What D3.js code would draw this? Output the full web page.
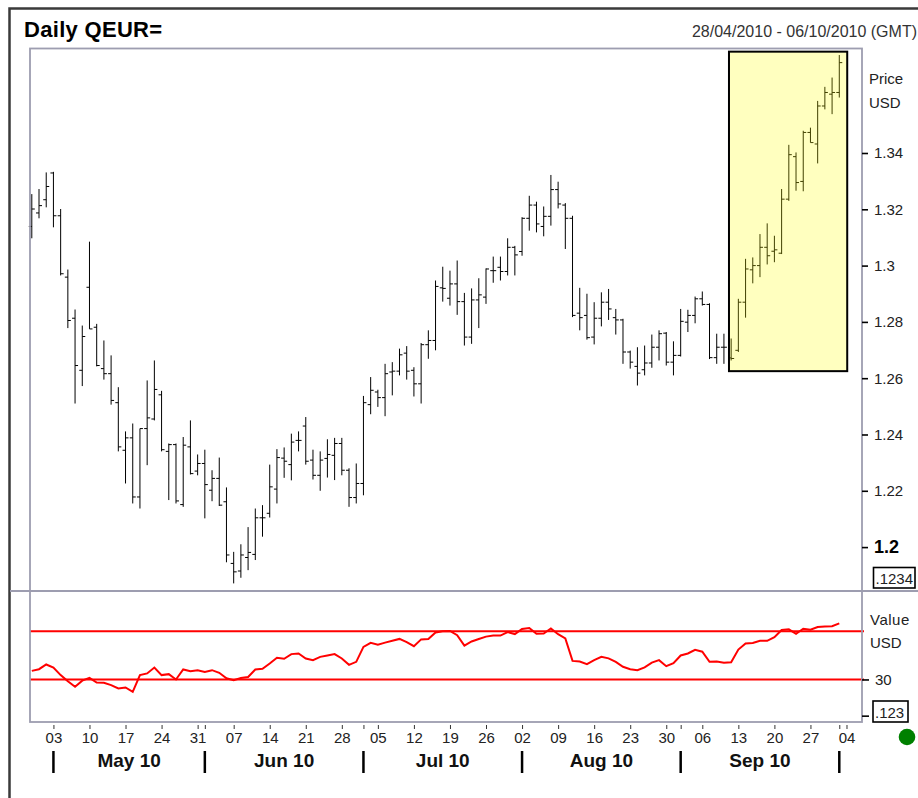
<!DOCTYPE html>
<html>
<head>
<meta charset="utf-8">
<script src="https://cdn.jsdelivr.net/npm/d3@7"></script>
<style>
body { margin: 0; background: #fff; }
svg { display: block; font-family: Arial, "Liberation Sans", sans-serif; }
</style>
</head>
<body>
<script>
// daily bars QEUR=, 28/04/2010 - 06/10/2010
var width = 918, height = 798;

var open = [1.3139,1.3187,1.3234,1.3329,1.3177,1.2959,1.2813,1.2628,1.2923,1.2781,
1.2634,1.2616,1.2513,1.2344,1.2388,1.2178,1.2421,1.2455,1.2541,1.2340,
1.2364,1.2151,1.2356,1.2270,1.2297,1.2202,1.2244,1.2161,1.1942,1.1915,
1.1963,1.1974,1.2104,1.2120,1.2206,1.2316,1.2293,1.2379,1.2430,1.2309,
1.2255,1.2315,1.2326,1.2368,1.2273,1.2176,1.2226,1.2506,1.2551,1.2531,
1.2622,1.2625,1.2689,1.2628,1.2580,1.2719,1.2734,1.2921,1.2884,1.2935,
1.2872,1.2746,1.2878,1.2888,1.2982,1.2994,1.2979,1.3065,1.3050,1.3168,
1.3215,1.3139,1.3175,1.3270,1.3215,1.3168,1.2831,1.2823,1.2746,1.2813,
1.2870,1.2815,1.2807,1.2693,1.2642,1.2630,1.2654,1.2710,1.2760,1.2657,
1.2681,1.2799,1.2823,1.2882,1.2862,1.2673,1.2710,1.2672,1.2699,1.2870,
1.2985,1.3000,1.3065,1.3051,1.3044,1.3236,1.3387,1.3299,1.3473,1.3432,
1.3567,1.3609,1.3615];

var high = [1.3254,1.3272,1.3331,1.3333,1.3201,1.2986,1.2844,1.2787,1.3085,1.2793,
1.2734,1.2681,1.2568,1.2411,1.2439,1.2421,1.2592,1.2663,1.2555,1.2368,
1.2368,1.2391,1.2450,1.2329,1.2346,1.2273,1.2318,1.2212,1.1983,1.2010,
1.2071,1.2137,1.2149,1.2293,1.2348,1.2354,1.2403,1.2411,1.2462,1.2346,
1.2340,1.2383,1.2388,1.2388,1.2280,1.2297,1.2537,1.2604,1.2559,1.2651,
1.2657,1.2705,1.2714,1.2639,1.2725,1.2770,1.2947,1.2996,1.2982,1.3018,
1.2903,1.2919,1.2955,1.2990,1.3032,1.3032,1.3097,1.3070,1.3172,1.3248,
1.3227,1.3210,1.3322,1.3298,1.3222,1.3177,1.2921,1.2900,1.2870,1.2905,
1.2917,1.2846,1.2811,1.2698,1.2710,1.2716,1.2755,1.2770,1.2764,1.2731,
1.2846,1.2843,1.2890,1.2908,1.2866,1.2758,1.2758,1.2741,1.2882,1.3024,
1.3029,1.3112,1.3150,1.3106,1.3272,1.3429,1.3402,1.3479,1.3490,1.3585,
1.3635,1.3668,1.3748];

var low = [1.3097,1.3168,1.3207,1.3136,1.2965,1.2778,1.2510,1.2572,1.2775,1.2642,
1.2595,1.2506,1.2340,1.2226,1.2155,1.2137,1.2291,1.2450,1.2340,1.2167,
1.2155,1.2143,1.2258,1.2255,1.2102,1.2163,1.2146,1.1946,1.1871,1.1891,
1.1918,1.1954,1.2037,1.2105,1.2155,1.2246,1.2237,1.2340,1.2293,1.2240,
1.2200,1.2247,1.2238,1.2255,1.2143,1.2155,1.2184,1.2472,1.2498,1.2465,
1.2539,1.2610,1.2595,1.2535,1.2510,1.2669,1.2699,1.2872,1.2858,1.2825,
1.2716,1.2722,1.2778,1.2864,1.2939,1.2947,1.2965,1.2965,1.3035,1.3124,
1.3118,1.3104,1.3142,1.3203,1.3059,1.2817,1.2770,1.2737,1.2720,1.2784,
1.2807,1.2755,1.2651,1.2634,1.2574,1.2610,1.2637,1.2663,1.2645,1.2610,
1.2677,1.2764,1.2795,1.2858,1.2668,1.2651,1.2651,1.2663,1.2693,1.2815,
1.2937,1.2959,1.3004,1.3012,1.3041,1.3230,1.3266,1.3264,1.3437,1.3363,
1.3555,1.3538,1.3597];

var close = [1.3201,1.3213,1.3281,1.3177,1.2971,1.2805,1.2645,1.2748,1.2775,1.2645,
1.2616,1.2521,1.2356,1.2388,1.2178,1.2421,1.2459,1.2560,1.2346,1.2364,
1.2164,1.2362,1.2261,1.2297,1.2222,1.2244,1.2149,1.1972,1.1912,1.1972,
1.1981,1.2104,1.2104,1.2214,1.2318,1.2305,1.2373,1.2379,1.2305,1.2255,
1.2309,1.2329,1.2368,1.2273,1.2176,1.2226,1.2513,1.2557,1.2531,1.2616,
1.2625,1.2683,1.2625,1.2580,1.2719,1.2734,1.2926,1.2919,1.2935,1.2872,
1.2746,1.2878,1.2896,1.2988,1.2982,1.2979,1.3065,1.3038,1.3168,1.3215,
1.3148,1.3175,1.3270,1.3219,1.3168,1.2823,1.2815,1.2744,1.2813,1.2870,
1.2846,1.2807,1.2693,1.2657,1.2618,1.2654,1.2710,1.2758,1.2657,1.2681,
1.2802,1.2823,1.2882,1.2862,1.2673,1.2710,1.2710,1.2670,1.2870,1.2988,
1.3000,1.3065,1.3035,1.3056,1.3236,1.3394,1.3295,1.3473,1.3437,1.3567,
1.3615,1.3615,1.3721];

// lower panel indicator (red line)
var rsi = [37.1,38.5,42.4,39.9,33.6,28.5,24.0,29.0,31.3,27.5,
27.2,25.3,22.5,23.4,19.7,33.6,35.0,39.9,33.6,34.4,
30.0,38.3,36.9,37.7,36.3,37.7,35.5,31.0,29.4,31.2,
32.0,38.3,38.8,43.2,48.0,47.1,51.0,51.5,47.4,46.0,
48.7,49.9,51.0,47.4,42.1,44.6,57.0,60.3,58.8,60.5,
62.0,63.6,61.0,57.6,63.2,63.6,69.0,70.0,70.2,66.7,
58.0,61.5,63.5,65.5,66.4,66.4,69.2,67.6,71.9,72.7,
67.8,68.1,72.2,67.5,64.0,45.4,44.9,42.7,46.0,48.7,
47.5,44.5,40.5,38.5,37.7,40.0,44.0,46.0,41.0,43.5,
49.9,51.5,54.5,53.0,44.6,44.9,43.8,44.3,54.8,59.8,
60.3,62.0,62.0,65.0,71.0,71.5,67.8,72.0,71.2,73.4,
73.8,74.1,76.5];

var priceTicks = [1.2, 1.22, 1.24, 1.26, 1.28, 1.3, 1.32, 1.34];
var rsiLevels = [30, 70];
var rsiTicks = [0, 30];
// highlighted zone: bar index range and price range
var zoneIdx = [96.7, 113.1];
var zonePrice = [1.2625, 1.376];

// trading days (weekdays) in the period
var days = d3.timeDay.range(new Date(2010, 3, 28), new Date(2010, 9, 7))
  .filter(function(d) { return d.getDay() > 0 && d.getDay() < 6; });

var x = d3.scaleLinear().domain([-0.25, 115.15]).range([30, 862]);
var y = d3.scaleLinear().domain([1.1844, 1.3773]).range([591, 48]);
var yr = d3.scaleLinear().domain([-5, 103.3]).range([721.7, 591]);

var svg = d3.select('body').append('svg')
  .attr('width', width)
  .attr('height', height);

svg.append('rect').attr('width', width).attr('height', height).attr('fill', '#fff');

// outer frame
svg.append('path')
  .attr('d', 'M9.5,' + (height + 5) + 'V8.5H' + (width + 5))
  .attr('fill', 'none').attr('stroke', '#3a3a3a').attr('stroke-width', 2.5);

// title
svg.append('text').attr('x', 24).attr('y', 37)
  .attr('font-size', 22).attr('font-weight', 'bold').attr('fill', '#000')
  .attr('letter-spacing', 0.3)
  .text('Daily QEUR=');
svg.append('text').attr('x', 917).attr('y', 37).attr('text-anchor', 'end')
  .attr('font-size', 16).attr('fill', '#333')
  .text('28/04/2010 - 06/10/2010 (GMT)');

// price bars
var bars = svg.append('g').attr('stroke', '#000').attr('stroke-width', 1);
var idx = d3.range(close.length);
bars.selectAll('line.hl').data(idx).enter().append('line')
  .attr('class', 'hl')
  .attr('x1', function(i) { return x(i); })
  .attr('x2', function(i) { return x(i); })
  .attr('y1', function(i) { return y(high[i]); })
  .attr('y2', function(i) { return y(low[i]); });
bars.selectAll('line.op').data(idx).enter().append('line')
  .attr('class', 'op')
  .attr('x1', function(i) { return x(i) - 3; })
  .attr('x2', function(i) { return x(i); })
  .attr('y1', function(i) { return y(open[i]); })
  .attr('y2', function(i) { return y(open[i]); });
bars.selectAll('line.cl').data(idx).enter().append('line')
  .attr('class', 'cl')
  .attr('x1', function(i) { return x(i); })
  .attr('x2', function(i) { return x(i) + 3; })
  .attr('y1', function(i) { return y(close[i]); })
  .attr('y2', function(i) { return y(close[i]); });

// highlighted zone
svg.append('rect')
  .attr('x', x(zoneIdx[0])).attr('y', y(zonePrice[1]))
  .attr('width', x(zoneIdx[1]) - x(zoneIdx[0]))
  .attr('height', y(zonePrice[0]) - y(zonePrice[1]))
  .attr('fill', '#ffff00').attr('fill-opacity', 0.25)
  .attr('stroke', '#000').attr('stroke-width', 2);

// indicator panel
rsiLevels.forEach(function(v) {
  svg.append('line')
    .attr('x1', 30).attr('x2', 864)
    .attr('y1', yr(v)).attr('y2', yr(v))
    .attr('stroke', '#ff0000').attr('stroke-width', 2);
});
svg.append('path').datum(rsi)
  .attr('fill', 'none').attr('stroke', '#ff0000').attr('stroke-width', 2)
  .attr('d', d3.line().x(function(d, i) { return x(i); }).y(function(d) { return yr(d); }));

// panel borders
var borderCol = '#9d9db0';
svg.append('rect').attr('x', 30).attr('y', 48.5).attr('width', 832).attr('height', 673.5)
  .attr('fill', 'none').attr('stroke', borderCol).attr('stroke-width', 1.8);
svg.append('line').attr('x1', 10).attr('x2', width).attr('y1', 591).attr('y2', 591)
  .attr('stroke', borderCol).attr('stroke-width', 1.8);

// price axis
var pAxis = svg.append('g').attr('transform', 'translate(862,0)')
  .call(d3.axisRight(y).tickValues(priceTicks).tickSize(6).tickPadding(6)
    .tickFormat(d3.format('~g')));
pAxis.select('.domain').remove();
pAxis.selectAll('line').attr('stroke', '#000').attr('stroke-width', 1.6);
pAxis.selectAll('text').attr('font-size', 15).attr('fill', '#222')
  .attr('font-family', 'Arial, "Liberation Sans", sans-serif');
pAxis.selectAll('text').filter(function(d) { return d === 1.2; })
  .attr('font-size', 18).attr('font-weight', 'bold').attr('fill', '#000');

svg.append('text').attr('x', 869).attr('y', 84).attr('font-size', 15).attr('fill', '#222').text('Price');
svg.append('text').attr('x', 869).attr('y', 108).attr('font-size', 15).attr('fill', '#222').text('USD');

// value axis
var vAxis = svg.append('g').attr('transform', 'translate(862,0)')
  .call(d3.axisRight(yr).tickValues(rsiTicks).tickSize(7).tickPadding(6)
    .tickFormat(function(d) { return d === 30 ? '30' : ''; }));
vAxis.select('.domain').remove();
vAxis.selectAll('line').attr('stroke', '#000').attr('stroke-width', 1.6);
vAxis.selectAll('text').attr('font-size', 15).attr('fill', '#222')
  .attr('font-family', 'Arial, "Liberation Sans", sans-serif');

svg.append('text').attr('x', 870).attr('y', 625).attr('font-size', 15).attr('fill', '#222')
  .attr('letter-spacing', 0.5).text('Value');
svg.append('text').attr('x', 870).attr('y', 648).attr('font-size', 15).attr('fill', '#222').text('USD');

// last value boxes
[{x: 873.5, y: 567.5, w: 41.5, h: 20.5, t: '.1234'},
 {x: 873, y: 701, w: 35, h: 21, t: '.123'}].forEach(function(b) {
  svg.append('rect').attr('x', b.x).attr('y', b.y).attr('width', b.w).attr('height', b.h)
    .attr('fill', '#fff').attr('stroke', '#000').attr('stroke-width', 1.6);
  svg.append('text').attr('x', b.x + 2).attr('y', b.y + b.h - 4)
    .attr('font-size', 15).attr('fill', '#222').text(b.t);
});

svg.append('circle').attr('cx', 907).attr('cy', 737).attr('r', 8.3).attr('fill', '#008000');

// time axis
var fmtDay = d3.timeFormat('%d');
var mondays = idx.concat([113]).filter(function(i) { return days[i].getDay() === 1; });
var monthStarts = d3.range(1, days.length).filter(function(i) {
  return days[i].getMonth() !== days[i - 1].getMonth();
});
var tickIdx = Array.from(new Set(mondays.concat(monthStarts))).sort(d3.ascending);

var tAxis = svg.append('g').attr('transform', 'translate(0,725)')
  .call(d3.axisBottom(x).tickValues(tickIdx).tickSize(4).tickPadding(3)
    .tickFormat(function(i) { return days[i].getDay() === 1 ? fmtDay(days[i]) : ''; }));
tAxis.select('.domain').remove();
tAxis.selectAll('line').attr('stroke', '#333');
tAxis.selectAll('text').attr('font-size', 15).attr('fill', '#222')
  .attr('font-family', 'Arial, "Liberation Sans", sans-serif');

// month separators and labels
var fmtMonth = d3.timeFormat('%b %y');
svg.selectAll('line.msep').data(monthStarts).enter().append('line')
  .attr('class', 'msep')
  .attr('x1', function(i) { return x(i); }).attr('x2', function(i) { return x(i); })
  .attr('y1', 751).attr('y2', 773)
  .attr('stroke', '#000').attr('stroke-width', 2.5);
svg.selectAll('text.mlab').data(monthStarts.slice(0, -1)).enter().append('text')
  .attr('class', 'mlab')
  .attr('x', function(i, k) { return (x(i) + x(monthStarts[k + 1])) / 2; })
  .attr('y', 767)
  .attr('text-anchor', 'middle')
  .attr('font-size', 19).attr('font-weight', 'bold').attr('fill', '#111')
  .text(function(i) { return fmtMonth(days[i]); });
</script>
</body>
</html>
